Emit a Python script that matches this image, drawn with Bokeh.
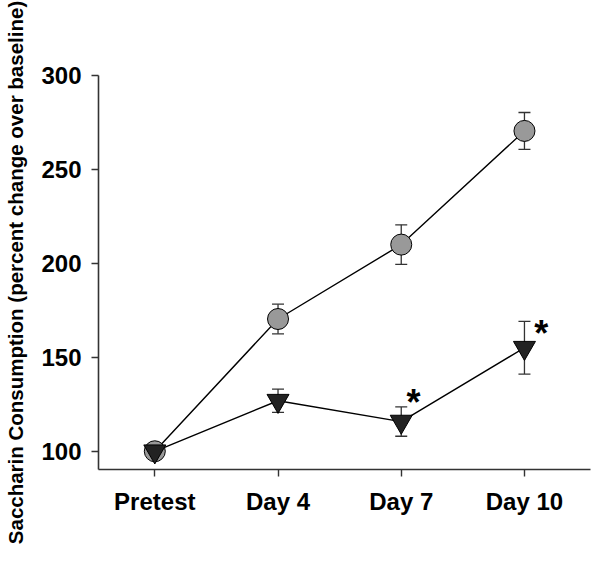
from bokeh.plotting import figure
from bokeh.models import FixedTicker, ColumnDataSource
from bokeh.core.properties import value
from bokeh.embed import file_html
from bokeh.resources import INLINE

categories = ["Pretest", "Day 4", "Day 7", "Day 10"]
control_mean = [100, 170.4, 210.0, 270.5]
control_err = [2, 7.9, 10.5, 9.8]
treated_mean = [100, 126.9, 115.8, 155.1]
treated_err = [2, 6.2, 7.8, 14.0]
star_x = [3.10, 4.136]
star_y = [125.9, 162.6]
star_text = ["*", "*"]
y_ticks = [100, 150, 200, 250, 300]

xs = list(range(1, len(categories) + 1))
FONT = "Liberation Sans"

p = figure(width=596, height=553, output_backend="svg", toolbar_location=None,
           x_range=(0.543, 4.536), y_range=(90.3, 300),
           min_border_left=98, min_border_right=6, min_border_top=75, min_border_bottom=84)
p.outline_line_color = None
p.xgrid.visible = False
p.ygrid.visible = False
p.background_fill_color = "white"
p.border_fill_color = "white"

for ax in (p.xaxis[0], p.yaxis[0]):
    ax.axis_line_color = "#333333"
    ax.axis_line_width = 1.6
    ax.major_tick_line_color = "#333333"
    ax.major_tick_line_width = 1.4
    ax.major_tick_in = 0
    ax.major_tick_out = 7
    ax.minor_tick_line_color = None
    ax.major_label_text_font = FONT
    ax.major_label_text_font_style = "bold"
    ax.major_label_text_font_size = "24px"
    ax.major_label_text_color = "black"

p.xaxis.ticker = FixedTicker(ticks=xs)
p.xaxis.major_label_overrides = {x: c for x, c in zip(xs, categories)}
p.xaxis.major_label_standoff = 11
p.yaxis.ticker = FixedTicker(ticks=y_ticks)
p.yaxis.major_label_standoff = 10
p.yaxis.axis_label = "Saccharin Consumption (percent change over baseline)"
p.yaxis.axis_label_text_font = FONT
p.yaxis.axis_label_text_font_style = "bold"
p.yaxis.axis_label_text_font_size = "20.5px"
p.yaxis.axis_label_text_color = "black"
p.yaxis.axis_label_standoff = 11

def series(mean, err):
    return ColumnDataSource(dict(
        x=xs, y=mean,
        lo=[m - e for m, e in zip(mean, err)],
        hi=[m + e for m, e in zip(mean, err)],
    ))

c_src = series(control_mean, control_err)
t_src = series(treated_mean, treated_err)

# connecting lines
p.line("x", "y", source=c_src, line_color="black", line_width=1.4)
p.line("x", "y", source=t_src, line_color="black", line_width=1.4)

# error bars
for src in (c_src, t_src):
    p.segment(x0="x", y0="lo", x1="x", y1="hi", source=src, line_color="#333333", line_width=1.3)
    p.scatter("x", "hi", source=src, marker="dash", size=12, line_color="#333333", line_width=1.3)
    p.scatter("x", "lo", source=src, marker="dash", size=12, line_color="#333333", line_width=1.3)

# markers
p.scatter("x", "y", source=c_src, marker="circle", size=21,
          fill_color="#999999", line_color="black", line_width=1)
p.scatter("x", "y", source=t_src, marker="inverted_triangle", size=22,
          fill_color="#222222", line_color="black", line_width=1)

# significance stars
p.text(x=star_x, y=star_y, text=star_text, text_font=value(FONT), text_font_style="bold",
       text_font_size="36px", text_align="center", text_baseline="middle", text_color="black")

open("out.html", "w").write(file_html(p, INLINE))
